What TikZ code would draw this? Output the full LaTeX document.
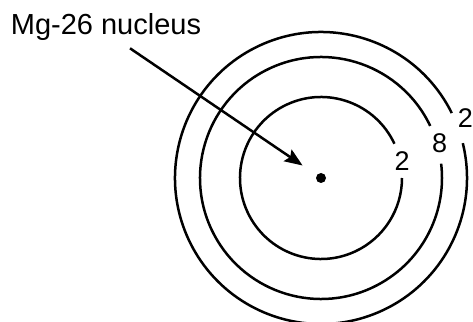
\documentclass[tikz,border=0pt]{standalone}
\usepackage{fontspec}
\setmainfont{Liberation Sans}
\usetikzlibrary{positioning,arrows.meta,calc}

\begin{document}
\begin{tikzpicture}[x=1pt, y=1pt, line width=2.5pt,
    >={Stealth[length=18pt, width=14pt, inset=3pt]},
    numcapa/.style={inner sep=0pt, font=\fontsize{27}{32}\selectfont},
    rotulo/.style={anchor=base west, inner sep=0pt, font=\fontsize{29}{34}\selectfont}]
    \useasboundingbox (0,0) rectangle (473,321);

    % Nucleo
    \node[circle, fill=black, inner sep=0pt, minimum size=10pt] (nucleo) at (321,143) {};

    % Capas de electrones
    \draw ([shift={(25:81)}]nucleo.center) arc[start angle=25, end angle=360, radius=81];
    \draw ([shift={(25.5:121)}]nucleo.center) arc[start angle=25.5, end angle=366.8, radius=121];
    \draw ([shift={(26.4:146)}]nucleo.center) arc[start angle=26.4, end angle=373.8, radius=146];

    % Numero de electrones
    \node[numcapa] (capa1) at ([shift={(11.6:82.7)}]nucleo.center) {2};
    \node[numcapa] (capa2) at ([shift={(16.3:123.6)}]nucleo.center) {8};
    \node[numcapa] (capa3) at ([shift={(22.7:156.4)}]nucleo.center) {2};

    % Rotulo y flecha
    \node[rotulo] (etiqueta) at (9.6,286) {Mg-26 nucleus};
    \coordinate (inicio) at (130,272.7);
    \draw[->, shorten >=16pt] (inicio) -- (nucleo);
\end{tikzpicture}
\end{document}
